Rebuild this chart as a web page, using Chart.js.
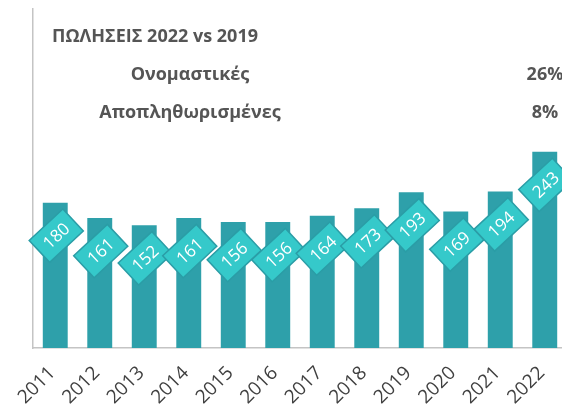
<!DOCTYPE html>
<html>
<head>
<meta charset="utf-8">
<script src="https://cdn.jsdelivr.net/npm/chart.js@4/dist/chart.umd.min.js"></script>
<style>
  html, body { margin: 0; padding: 0; background: #fff; overflow: hidden; width: 562px; height: 412px; }
  #wrap { position: relative; width: 575px; height: 430px; }
  canvas { position: absolute; left: 0; top: 0; }
  .t { position: absolute; font-family: "Open Sans", sans-serif; font-weight: 700; color: #555555; white-space: nowrap; font-size: 18px; line-height: 18px; }
  .c { text-align: center; width: 300px; }
</style>
</head>
<body>
<div id="wrap">
  <canvas id="c" width="575" height="430"></canvas>
  <div class="t" style="left:52px; top:26px;">ΠΩΛΗΣΕΙΣ 2022 vs 2019</div>
  <div class="t c" style="left:40px; top:64px;">Ονομαστικές</div>
  <div class="t c" style="left:395px; top:64px;">26%</div>
  <div class="t c" style="left:40px; top:102px;">Αποπληθωρισμένες</div>
  <div class="t c" style="left:395px; top:102px;">8%</div>
</div>
<script>
const years = ['2011','2012','2013','2014','2015','2016','2017','2018','2019','2020','2021','2022'];
const sales = [180, 161, 152, 161, 156, 156, 164, 173, 193, 169, 194, 243];

const BAR = '#2EA0AA';
const TAG_FILL = '#35C9CA';
const TAG_EDGE = '#2A9DA6';

const diamondLabels = {
  id: 'diamondLabels',
  afterDatasetsDraw(chart) {
    const ctx = chart.ctx;
    const meta = chart.getDatasetMeta(0);
    const ds = chart.data.datasets[0];
    ctx.save();
    meta.data.forEach((bar, i) => {
      const cx = bar.x + 1;
      const cy = bar.y + 33;
      const w = 46, h = 30;
      ctx.save();
      ctx.translate(cx, cy);
      ctx.rotate(-43 * Math.PI / 180);
      ctx.fillStyle = TAG_FILL;
      ctx.strokeStyle = TAG_EDGE;
      ctx.lineWidth = 1.5;
      ctx.beginPath();
      ctx.rect(-w / 2, -h / 2, w, h);
      ctx.fill();
      ctx.stroke();
      ctx.fillStyle = '#ffffff';
      ctx.font = '17px "Open Sans", sans-serif';
      ctx.textAlign = 'center';
      ctx.textBaseline = 'middle';
      ctx.fillText(String(ds.data[i]), 0, 1);
      ctx.restore();
    });
    ctx.restore();
  }
};

new Chart(document.getElementById('c'), {
  type: 'bar',
  data: {
    labels: years,
    datasets: [{
      data: sales,
      backgroundColor: BAR,
      borderWidth: 0,
      categoryPercentage: 0.56,
      barPercentage: 1.0
    }]
  },
  options: {
    responsive: false,
    animation: false,
    devicePixelRatio: 1,
    layout: { padding: { top: 9, right: 8, left: 0, bottom: 0 } },
    plugins: { legend: { display: false }, tooltip: { enabled: false } },
    scales: {
      x: {
        grid: { display: false, drawTicks: false },
        border: { display: true, color: '#C4C4C4', width: 1.5 },
        ticks: {
          minRotation: 45, maxRotation: 45, padding: 14, labelOffset: -3,
          color: '#404040',
          font: { family: '"Open Sans", sans-serif', size: 19 }
        },
        afterFit(s) { s.height = 82; s.paddingLeft = 0; s.paddingRight = 0; }
      },
      y: {
        min: 0, max: 420,
        grid: { display: false, drawTicks: false },
        border: { display: true, color: '#C4C4C4', width: 1.5 },
        ticks: { display: false },
        afterFit(s) { s.width = 33; }
      }
    }
  },
  plugins: [diamondLabels]
});
</script>
</body>
</html>
